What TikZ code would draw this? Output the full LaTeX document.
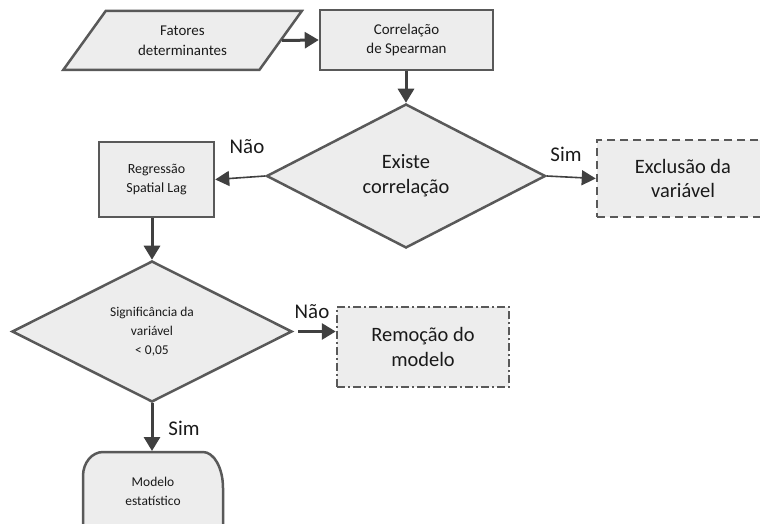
\documentclass[tikz,border=0pt]{standalone}
\usepackage{fontspec}
\setmainfont{Carlito}
\usetikzlibrary{shapes.geometric,arrows.meta,calc}
\definecolor{fillg}{HTML}{EDEDED}
\definecolor{edgeg}{HTML}{595959}
\definecolor{arrg}{HTML}{404040}
\definecolor{txt}{HTML}{1A1A1A}
\tikzset{
  shp/.style={draw=edgeg, fill=fillg, line width=2.5bp, align=center, inner sep=0pt, text=txt},
  boxr/.style={shp, rectangle},
  dia/.style={shp, diamond},
  para/.style={shp, trapezium, trapezium left angle=50.3, trapezium right angle=129.7, trapezium stretches=true},
  fs/.style={font=\fontsize{15}{20}\selectfont},
  fm/.style={font=\fontsize{14}{19}\selectfont},
  fsm/.style={font=\fontsize{13.5}{19}\selectfont},
  fl/.style={font=\fontsize{20.5}{25}\selectfont},
  lbl/.style={font=\fontsize{21}{25}\selectfont, text=txt, inner sep=0pt},
  thick arr/.style={draw=arrg, line width=3bp, -{Triangle[length=14bp,width=16bp]}},
  thin arr/.style={draw=arrg, line width=1.6bp, -{Triangle[length=14bp,width=15bp]}},
}
\begin{document}
\begin{tikzpicture}[x=1bp,y=-1bp]
\useasboundingbox (0,0) rectangle (760,524);
\clip (0,0) rectangle (760,524);
% nodes
\node[para, fs, minimum width=239bp, minimum height=59bp] (fat) at (182.5,40.5) {Fatores\\determinantes};
\node[boxr, fs, minimum width=173bp, minimum height=60bp] (cor) at (406.5,40) {Correlação\\de Spearman};
\node[dia, fl, minimum width=279bp, minimum height=144bp] (d1) at (406,176) {Existe\\correlação};
\node[boxr, fm, minimum width=115bp, minimum height=75bp] (reg) at (156.5,179.5) {Regressão\\Spatial Lag};
\node[boxr, fl, dash pattern=on 8bp off 5bp, minimum width=172bp, minimum height=77bp] (exc) at (683,178.5) {Exclusão da\\variável};
\node[dia, fsm, minimum width=280bp, minimum height=141bp] (d2) at (152,331.5) {Significância da\\variável\\< 0,05};
\node[boxr, fl, dash pattern=on 8bp off 3bp on 2bp off 3bp, minimum width=172bp, minimum height=80bp] (rem) at (423,347) {Remoção do\\modelo};
% terminal
\draw[draw=edgeg, fill=fillg, line width=2.5bp]
  (83,545) -- (83,476) arc[start angle=180, end angle=270, x radius=20, y radius=24]
  -- (203,452) arc[start angle=-90, end angle=0, x radius=20, y radius=36] -- (223,545) -- cycle;
\node[fsm, align=center, text=txt] (mod) at (153,491) {Modelo\\estatístico};
\coordinate (modtop) at (152,451);
% connectors
\path[thick arr] ($(fat.bottom right corner)!0.5!(fat.top right corner)$) -- (cor.west);
\path[thick arr] (cor.south -| d1.north) -- (d1.north);
\path[thin arr] (d1.west) -- (reg.east);
\path[thin arr] (d1.east) -- (exc.west);
\path[thick arr] (reg.south -| d2.north) -- (d2.north);
\path[thick arr, shorten <=5bp] (d2.east) -- (d2.east -| rem.west);
\path[thick arr] (d2.south) -- (modtop);
% labels
\node[lbl] (l1) at (247,147) {Não};
\node[lbl] (l2) at (566,154) {Sim};
\node[lbl] (l3) at (312,312) {Não};
\node[lbl] (l4) at (184,428) {Sim};
\end{tikzpicture}
\end{document}
